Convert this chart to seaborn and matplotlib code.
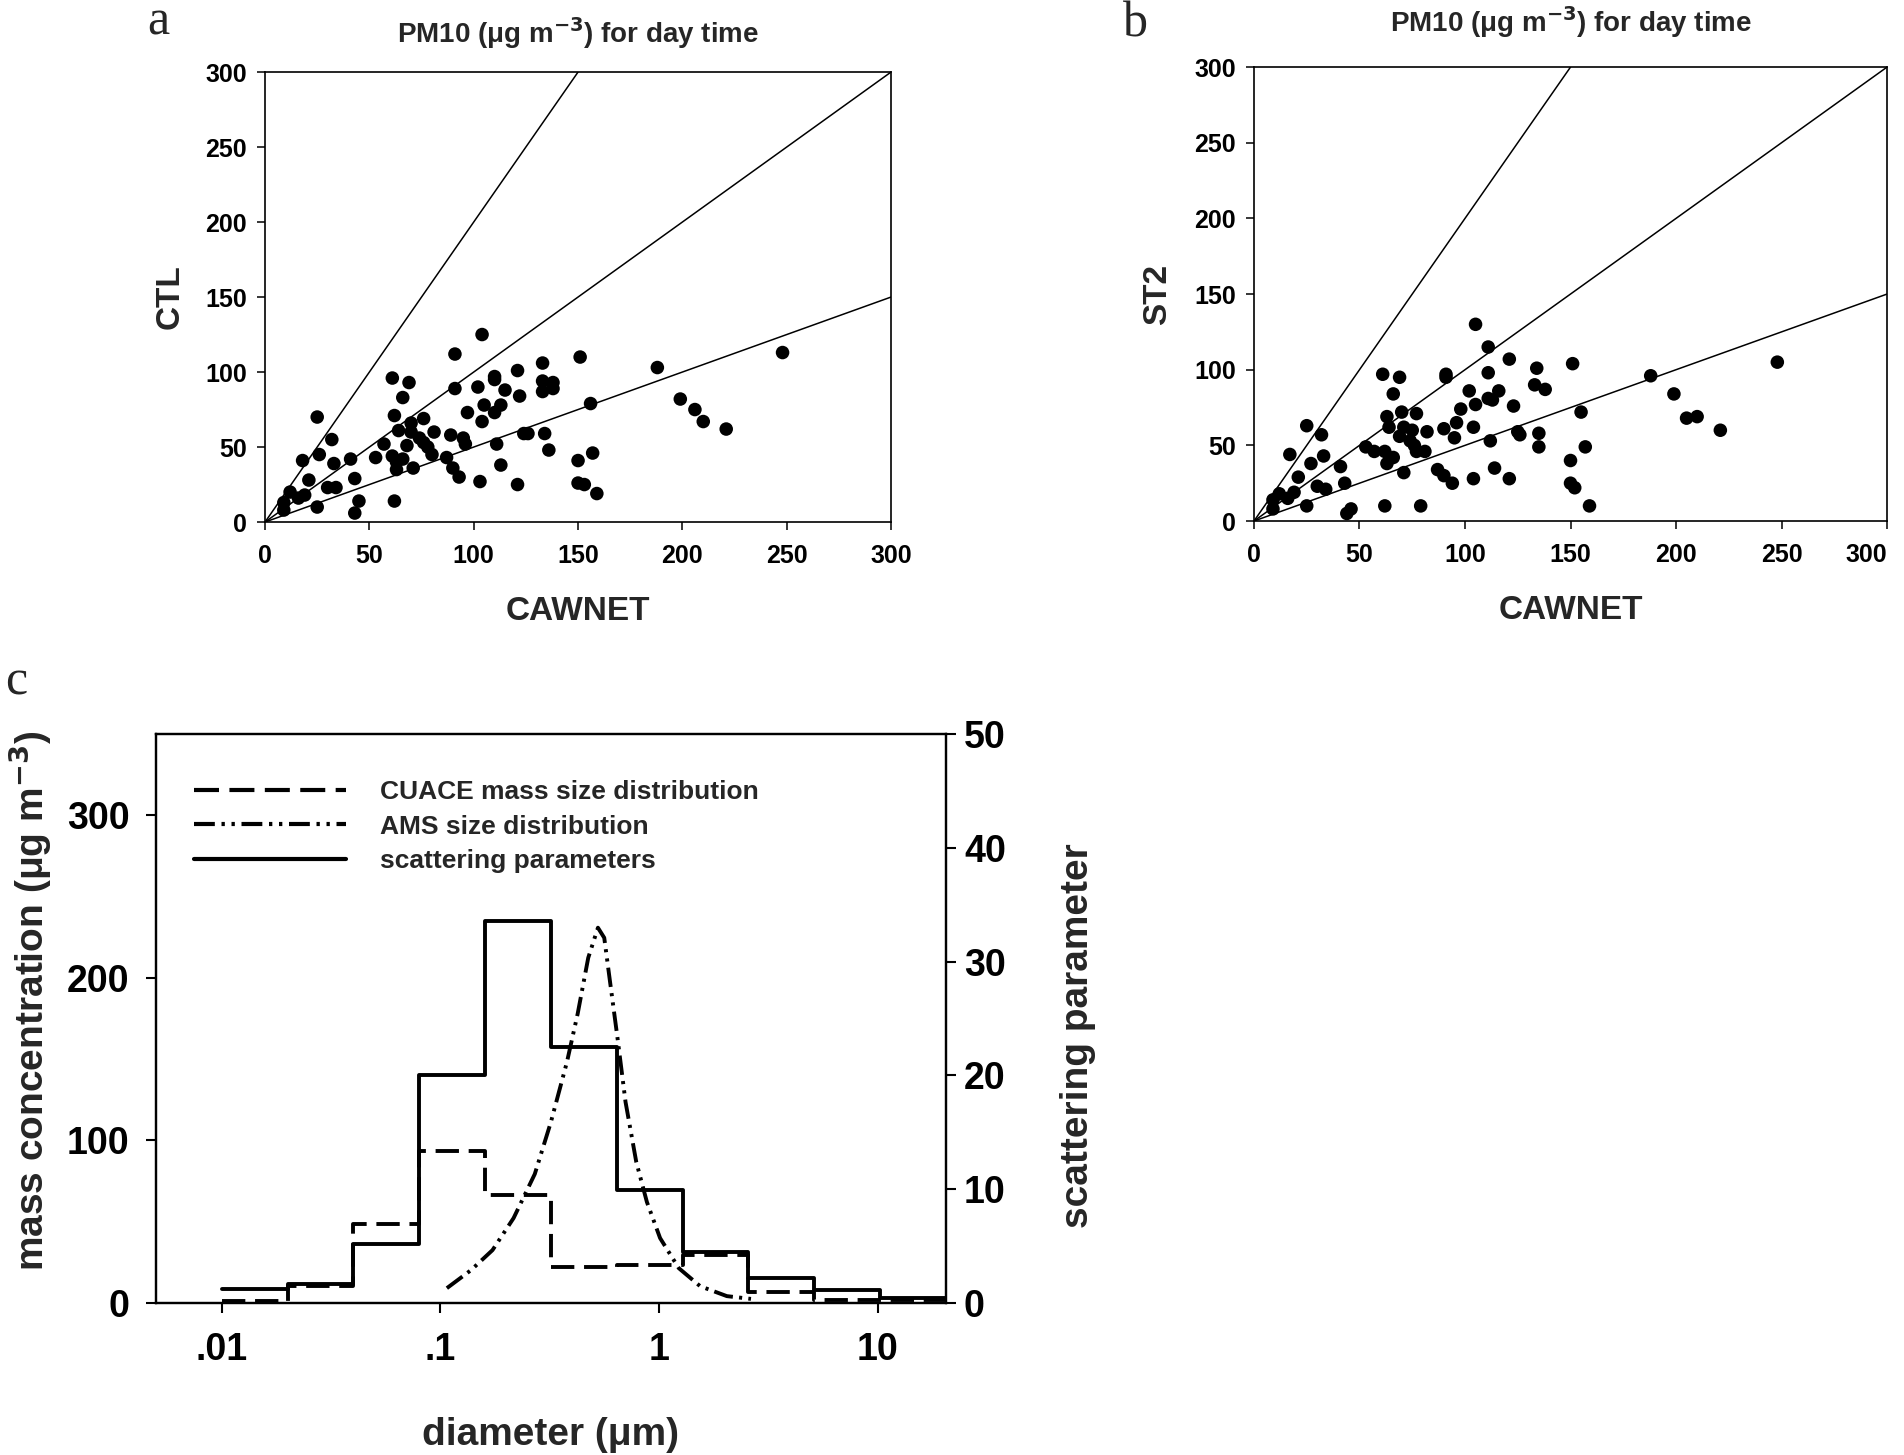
import matplotlib
matplotlib.use("Agg")
import matplotlib.pyplot as plt
from matplotlib.lines import Line2D
from matplotlib.ticker import FixedLocator, FixedFormatter, NullLocator
import seaborn as sns

# Panel a: CAWNET vs CTL (day time PM10)
cawnet_a = [104, 91, 133, 61, 69, 110, 110, 121, 102, 91, 115, 133, 138, 138, 133, 122,
            66, 105, 113, 110, 97, 104, 25, 62, 76, 70, 64, 70, 81, 32, 57, 68, 74, 76,
            78, 80, 89, 95, 96, 124, 126, 134, 111, 136, 26, 18, 33, 41, 53, 61, 66, 63,
            63, 71, 87, 90, 93, 113, 103, 121, 21, 43, 30, 34, 12, 16, 19, 9, 9, 25, 45,
            43, 62, 151, 156, 188, 248, 199, 206, 210, 221, 150, 157, 150, 153, 159]
ctl = [125, 112, 106, 96, 93, 97, 95, 101, 90, 89, 88, 94, 93, 89, 87, 84,
       83, 78, 78, 73, 73, 67, 70, 71, 69, 66, 61, 60, 60, 55, 52, 51, 56, 53,
       50, 45, 58, 56, 52, 59, 59, 59, 52, 48, 45, 41, 39, 42, 43, 44, 42, 40,
       35, 36, 43, 36, 30, 38, 27, 25, 28, 29, 23, 23, 20, 16, 18, 13, 8, 10, 14,
       6, 14, 110, 79, 103, 113, 82, 75, 67, 62, 41, 46, 26, 25, 19]

# Panel b: CAWNET vs ST2
cawnet_b = [105, 111, 121, 134, 133, 138, 91, 91, 111, 61, 69, 66, 102, 116, 111, 113,
            105, 123, 98, 70, 77, 63, 64, 71, 75, 69, 74, 82, 90, 96, 95, 104, 112, 125,
            126, 135, 135, 76, 77, 81, 53, 57, 62, 66, 63, 71, 87, 90, 94, 104, 114, 121,
            25, 32, 17, 33, 27, 41, 21, 30, 34, 43, 12, 16, 19, 9, 9, 25, 44, 46, 62, 79,
            151, 188, 248, 199, 205, 210, 221, 155, 157, 150, 150, 152, 159]
st2 = [130, 115, 107, 101, 90, 87, 97, 95, 98, 97, 95, 84, 86, 86, 81, 80,
       77, 76, 74, 72, 71, 69, 62, 62, 60, 56, 53, 59, 61, 65, 55, 62, 53, 59,
       57, 58, 49, 50, 46, 46, 49, 46, 46, 42, 38, 32, 34, 30, 25, 28, 35, 28,
       63, 57, 44, 43, 38, 36, 29, 23, 21, 25, 18, 15, 19, 14, 8, 10, 5, 8, 10, 10,
       104, 96, 105, 84, 68, 69, 60, 72, 49, 40, 25, 22, 10]

ratio_lines = [2, 1, 0.5]
pm_ticks = [0, 50, 100, 150, 200, 250, 300]

# Panel c: size distributions
size_edges = [0.01, 0.02, 0.04, 0.08, 0.16, 0.32, 0.64, 1.28, 2.56, 5.12, 10.24, 20.48]
cuace_mass = [1.2, 10.3, 48.5, 93.3, 66.3, 22.2, 23.5, 29.3, 6.7, 2.0, 2.0]
scatter_param = [1.2, 1.65, 5.2, 20.0, 33.6, 22.5, 9.9, 4.5, 2.2, 1.1, 0.4]
ams_d = [0.107, 0.138, 0.173, 0.216, 0.270, 0.320, 0.379, 0.424, 0.474, 0.525, 0.561,
         0.593, 0.645, 0.702, 0.786, 0.879, 1.01, 1.23, 1.54, 2.04, 2.63]
ams_mass = [9.1, 20.2, 32.5, 52.2, 79.3, 111.3, 148.3, 177.8, 212.3, 230.8, 224.6,
            200, 163, 123.6, 86.7, 62.1, 39.9, 21.4, 10.3, 4.2, 2.5]
diam_ticks = [0.01, 0.1, 1, 10]
diam_labels = [".01", ".1", "1", "10"]

sns.set_theme(style="ticks")
plt.rcParams['font.family'] = ['Liberation Sans', 'DejaVu Sans']
plt.rcParams['font.weight'] = 'bold'
plt.rcParams['axes.labelweight'] = 'bold'
plt.rcParams['axes.edgecolor'] = 'black'
plt.rcParams['xtick.color'] = 'black'
plt.rcParams['ytick.color'] = 'black'

fig = plt.figure(figsize=(19.04, 14.55), dpi=100)
ax_a = fig.add_axes([0.1392, 0.6412, 0.3288, 0.3093])
ax_b = fig.add_axes([0.6586, 0.6419, 0.3325, 0.3120])
ax_c = fig.add_axes([0.0819, 0.1045, 0.4149, 0.3911])

title = 'PM10 (μg m$^{\\mathbf{-3}}$) for day time'
for ax, xs, ys, ylab, ty in [(ax_a, cawnet_a, ctl, 'CTL', 1.087),
                             (ax_b, cawnet_b, st2, 'ST2', 1.099)]:
    sns.scatterplot(x=xs, y=ys, ax=ax, color='black', s=95, edgecolor='none', linewidth=0)
    for r in ratio_lines:
        ax.axline((0, 0), slope=r, color='black', lw=1.1)
    ax.set_xlim(0, 300)
    ax.set_ylim(0, 300)
    ax.set_xticks(pm_ticks)
    ax.set_yticks(pm_ticks)
    ax.tick_params(axis='both', labelsize=18, length=6, width=1.1, direction='out')
    ax.tick_params(axis='x', pad=10)
    ax.tick_params(axis='y', pad=7)
    for lab in ax.get_xticklabels() + ax.get_yticklabels():
        lab.set_fontweight('bold')
    for sp in ax.spines.values():
        sp.set_linewidth(1.2)
        sp.set_visible(True)
    ax.set_xlabel('CAWNET', fontsize=24, fontweight='bold')
    ax.set_ylabel(ylab, fontsize=24, fontweight='bold')
    ax.xaxis.set_label_coords(0.5, -0.198)
    ax.yaxis.set_label_coords(-0.152, 0.5)
    ax.xaxis.label.set_va('center')
    ax.yaxis.label.set_va('center')
    ax.text(0.5, ty, title, transform=ax.transAxes, ha='center', va='center',
            fontsize=20, fontweight='bold')

# keep the last tick label of panel b inside the figure edge
ax_b.get_xticklabels()[-1].set_horizontalalignment('right')

# Panel c
lw = 2.8
step_x = size_edges
cuace_y = cuace_mass + [cuace_mass[-1]]
scat_y = scatter_param + [scatter_param[-1]]
ams_style = (0, (5, 1.6, 0.8, 1.6, 0.8, 1.6))

sns.lineplot(x=step_x, y=cuace_y, ax=ax_c, color='black', lw=lw, drawstyle='steps-post',
             estimator=None, linestyle=(0, (6, 2.5)))
sns.lineplot(x=ams_d, y=ams_mass, ax=ax_c, color='black', lw=lw, estimator=None,
             linestyle=ams_style)
ax_c.set_xscale('log')
ax_c.set_xlim(0.005, 20.48)
ax_c.set_ylim(0, 350)
ax_c.set_yticks([0, 100, 200, 300])

ax_r = ax_c.twinx()
sns.lineplot(x=step_x, y=scat_y, ax=ax_r, color='black', lw=lw, drawstyle='steps-post',
             estimator=None)
ax_r.set_ylim(0, 50)
ax_r.set_yticks([0, 10, 20, 30, 40, 50])
ax_c.set_xlim(0.005, 20.48)
ax_c.xaxis.set_major_locator(FixedLocator(diam_ticks))
ax_c.xaxis.set_major_formatter(FixedFormatter(diam_labels))
ax_c.xaxis.set_minor_locator(NullLocator())
ax_c.yaxis.set_minor_locator(NullLocator())
ax_r.yaxis.set_minor_locator(NullLocator())

for ax in (ax_c, ax_r):
    ax.tick_params(axis='both', labelsize=27, length=7, width=1.5, direction='out')
    for sp in ax.spines.values():
        sp.set_linewidth(1.6)
        sp.set_visible(True)
ax_c.tick_params(axis='x', pad=14)
ax_c.tick_params(axis='y', pad=12)
ax_r.tick_params(axis='y', pad=6)

ax_c.set_xlabel('diameter (μm)', fontsize=28, fontweight='bold')
ax_c.set_ylabel('mass concentration (μg m$^{\\mathbf{-3}}$)', fontsize=28, fontweight='bold')
ax_r.set_ylabel('scattering parameter', fontsize=28, fontweight='bold')
ax_c.xaxis.set_label_coords(0.5, -0.232)
ax_c.yaxis.set_label_coords(-0.159, 0.53)
ax_r.yaxis.set_label_coords(1.167, 0.47)
for lab in (ax_c.xaxis.label, ax_c.yaxis.label, ax_r.yaxis.label):
    lab.set_va('center')

handles = [
    Line2D([], [], color='black', lw=3, linestyle=(0, (6, 2.5))),
    Line2D([], [], color='black', lw=3, linestyle=ams_style),
    Line2D([], [], color='black', lw=3),
]
labels = ['CUACE mass size distribution', 'AMS size distribution', 'scattering parameters']
ax_r.legend(handles, labels, loc='upper left', bbox_to_anchor=(194 / 1904, 1 - 780 / 1455),
            bbox_transform=fig.transFigure, frameon=False, borderpad=0, borderaxespad=0,
            handlelength=5.75, handletextpad=1.3, labelspacing=0.4,
            prop={'size': 19, 'weight': 'bold'})

# panel letters
for letter, x, y in [('a', 158, 22), ('b', 1135, 24), ('c', 16, 682)]:
    fig.text(x / 1904, 1 - y / 1455, letter, ha='center', va='center', fontsize=36,
             family=['Liberation Serif', 'DejaVu Serif'], fontweight='normal')

fig.savefig('out.png', dpi=100, facecolor='white')
